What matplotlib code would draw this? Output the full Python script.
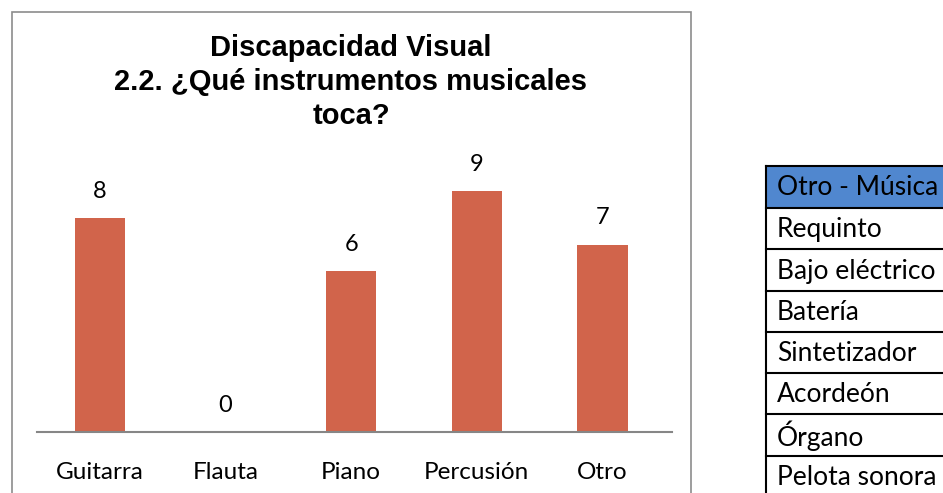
import matplotlib
matplotlib.use("Agg")
import matplotlib.pyplot as plt
from matplotlib.patches import Rectangle
from matplotlib.lines import Line2D

categories = ["Guitarra", "Flauta", "Piano", "Percusión", "Otro"]
values = [8, 0, 6, 9, 7]
title_lines = ["Discapacidad Visual", "2.2. ¿Qué instrumentos musicales", "toca?"]
table_header = "Otro - Música"
table_rows = ["Requinto", "Bajo eléctrico", "Batería", "Sintetizador", "Acordeón", "Órgano", "Pelota sonora"]

W, H = 943, 493
title_font = "Liberation Sans"
label_font = "Lato"

fig = plt.figure(figsize=(W / 100, H / 100), dpi=100)

def fx(px):
    return px / W

def fy(py):
    return 1 - py / H

# chart border
fig.add_artist(Rectangle((fx(12), fy(500)), fx(691) - fx(12), fy(12) - fy(500),
                         transform=fig.transFigure, fill=False, edgecolor="#8c8c8c", lw=1.2))

# axes
ax_left, ax_right, ax_top, ax_bottom = 37, 672, 150, 432
ax = fig.add_axes([fx(ax_left), fy(ax_bottom), fx(ax_right) - fx(ax_left), fy(ax_top) - fy(ax_bottom)])
unit = 26.77
ax.set_ylim(0, (ax_bottom - ax_top) / unit)
spacing = 125.6
x0 = 100.0
ax.set_xlim(-(x0 - ax_left) / spacing, (ax_right - x0) / spacing)
x = list(range(len(categories)))
bars = ax.bar(x, values, width=0.40, color="#D1644B")
for xi, v in zip(x, values):
    ax.text(xi, v + 1.0, str(v), ha="center", va="center", fontsize=17, family=label_font, color="#000000")
for s in ["top", "right", "left"]:
    ax.spines[s].set_visible(False)
ax.spines["bottom"].set_color("#868686")
ax.spines["bottom"].set_linewidth(1.5)
ax.set_yticks([])
ax.set_xticks(x)
ax.set_xticklabels(categories, fontsize=17.5, family=label_font)
ax.tick_params(axis="x", length=0, pad=29)
for lbl in ax.get_xticklabels():
    lbl.set_verticalalignment("center")
ax.patch.set_alpha(0)

# title
for i, line in enumerate(title_lines):
    fig.text(fx(351), fy(48 + i * 34), line, ha="center", va="center", fontsize=21,
             fontweight="bold", family=title_font)

# table
left = 766
tops = [166, 208, 249, 291, 332, 373, 414, 456]
fig.add_artist(Rectangle((fx(left), fy(208)), fx(960) - fx(left), fy(166) - fy(208),
                         transform=fig.transFigure, facecolor="#5087CF", edgecolor="none"))
for t in tops:
    fig.add_artist(Line2D([fx(left), fx(960)], [fy(t), fy(t)], transform=fig.transFigure,
                          color="black", lw=1.5))
fig.add_artist(Line2D([fx(left), fx(left)], [fy(166), fy(500)], transform=fig.transFigure,
                      color="black", lw=1.5))
texts = [table_header] + table_rows
for i, t in enumerate(texts):
    top = tops[i]
    bottom = tops[i + 1] if i + 1 < len(tops) else 497
    fig.text(fx(777), fy((top + bottom) / 2 + 1), t, ha="left", va="center", fontsize=19,
             family=label_font)

fig.savefig("out.png", dpi=100)
